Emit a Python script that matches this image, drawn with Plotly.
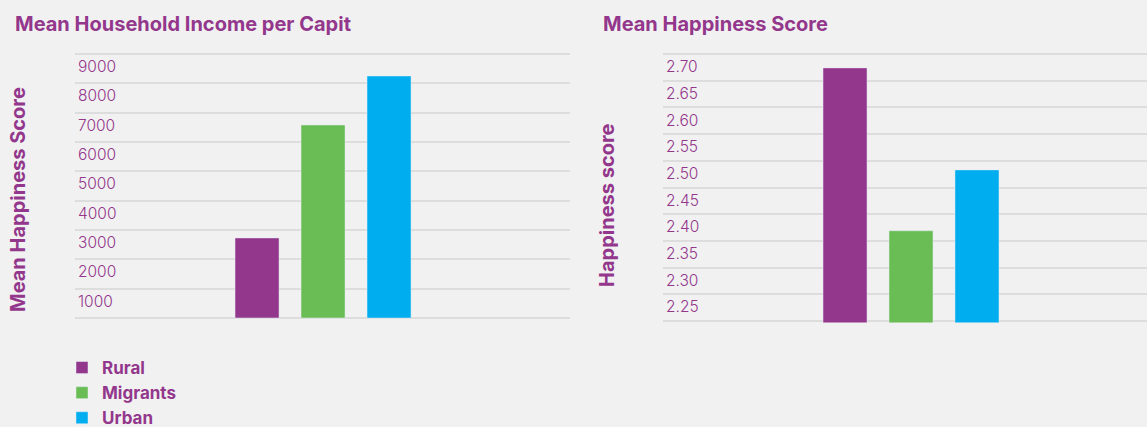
import plotly.graph_objects as go

# ---- data ----
groups = ["Rural", "Migrants", "Urban"]
colors = ["#93378c", "#6abd54", "#00adee"]
income_values = [2730, 6580, 8250]
happiness_values = [2.674, 2.369, 2.483]

income_gridvals = [0, 1000, 2000, 3000, 4000, 5000, 6000, 7000, 8000, 9000]
income_labelvals = [1000, 2000, 3000, 4000, 5000, 6000, 7000, 8000, 9000]
income_ticktext = ["1000", "2000", "3000", "4000", "5000", "6000", "7000", "8000", "9000"]
happy_gridvals = [2.20, 2.25, 2.30, 2.35, 2.40, 2.45, 2.50, 2.55, 2.60, 2.65, 2.70]
happy_labelvals = [2.25, 2.30, 2.35, 2.40, 2.45, 2.50, 2.55, 2.60, 2.65, 2.70]
happy_ticktext = ["2.25", "2.30", "2.35", "2.40", "2.45", "2.50", "2.55", "2.60", "2.65", "2.70"]

title_left = "Mean Household Income per Capit"
title_right = "Mean Happiness Score"
ytitle_left = "Mean Happiness Score"
ytitle_right = "Happiness score"

W, H = 1147, 427
PURPLE = "#93378c"
FONT = "Inter"

fig = go.Figure()
for g, c, v in zip(groups, colors, income_values):
    fig.add_trace(go.Bar(x=[g], y=[v], name=g, marker_color=c, width=0.667,
                         xaxis="x", yaxis="y", showlegend=True))
for g, c, v in zip(groups, colors, happiness_values):
    fig.add_trace(go.Bar(x=[g], y=[v], name=g, marker_color=c, width=0.667,
                         xaxis="x2", yaxis="y2", showlegend=False))


def px_x(p):
    return p / W


def px_y(p):
    return (H - p) / H


PAD = 1.5  # px of padding so edge gridlines are drawn
inc_ppu = 29.33 / 1000
hap_ppu = 26.7 / 0.05
inc_pad = PAD / inc_ppu
hap_pad = PAD / hap_ppu
inc_range = [0 - inc_pad, 9000 + inc_pad]
hap_range = [2.20 - hap_pad, 2.70 + hap_pad]

# label offset: labels sit ~12px below their gridline
inc_off = 12.5 / inc_ppu
hap_off = 12.7 / hap_ppu

grid_common = dict(showgrid=True, gridcolor="#dddddd", gridwidth=2, zeroline=False,
                   showline=False, ticks="", showticklabels=False)
label_common = dict(showgrid=False, zeroline=False, showline=False, ticks="",
                    ticklabelposition="inside", side="left",
                    tickfont=dict(family=FONT, size=15.5, color=PURPLE, weight=300))
title_font = dict(family=FONT, size=20, color=PURPLE, weight="bold")

fig.update_layout(
    width=W, height=H,
    margin=dict(l=0, r=0, t=0, b=0, autoexpand=False),
    paper_bgcolor="#f1f1f1", plot_bgcolor="#f1f1f1",
    barmode="overlay",
    font=dict(family=FONT, color=PURPLE),
    xaxis=dict(domain=[px_x(75), px_x(570)], range=[-2.758, 4.742], showgrid=False,
               showticklabels=False, zeroline=False, categoryorder="array", categoryarray=groups),
    xaxis2=dict(domain=[px_x(663), 1.0], range=[-2.758, 4.576], showgrid=False,
                showticklabels=False, zeroline=False, categoryorder="array", categoryarray=groups),
    yaxis=dict(domain=[px_y(318 + PAD), px_y(54 - PAD)], range=inc_range,
               tickvals=income_gridvals, anchor="x", **grid_common),
    yaxis2=dict(domain=[px_y(321 + PAD), px_y(54 - PAD)], range=hap_range,
                tickvals=happy_gridvals, anchor="x2", **grid_common),
    yaxis3=dict(overlaying="y", anchor="x", range=inc_range,
                tickvals=[v - inc_off for v in income_labelvals], ticktext=income_ticktext,
                **label_common),
    yaxis4=dict(overlaying="y2", anchor="x2", range=hap_range,
                tickvals=[v - hap_off for v in happy_labelvals], ticktext=happy_ticktext,
                **label_common),
    legend=dict(x=px_x(62), y=px_y(350), xanchor="left", yanchor="top",
                orientation="v", bgcolor="rgba(0,0,0,0)",
                font=dict(family=FONT, size=17, color=PURPLE, weight="bold")),
    annotations=[
        dict(text=title_left, x=px_x(13), y=px_y(24), xref="paper", yref="paper",
             xanchor="left", yanchor="middle", showarrow=False, font=title_font),
        dict(text=title_right, x=px_x(601), y=px_y(24), xref="paper", yref="paper",
             xanchor="left", yanchor="middle", showarrow=False, font=title_font),
        dict(text=ytitle_left, x=px_x(18), y=px_y(200), xref="paper", yref="paper",
             xanchor="center", yanchor="middle", textangle=-90, showarrow=False,
             font=title_font),
        dict(text=ytitle_right, x=px_x(607), y=px_y(205), xref="paper", yref="paper",
             xanchor="center", yanchor="middle", textangle=-90, showarrow=False,
             font=title_font),
    ],
)

# invisible helper traces so the label-only axes are drawn
fig.add_trace(go.Scatter(x=[groups[0]], y=[None], xaxis="x", yaxis="y3",
                         showlegend=False, hoverinfo="skip"))
fig.add_trace(go.Scatter(x=[groups[0]], y=[None], xaxis="x2", yaxis="y4",
                         showlegend=False, hoverinfo="skip"))

fig.write_html("out.html", config={"displayModeBar": False},
               post_script="document.body.style.margin='0';")
